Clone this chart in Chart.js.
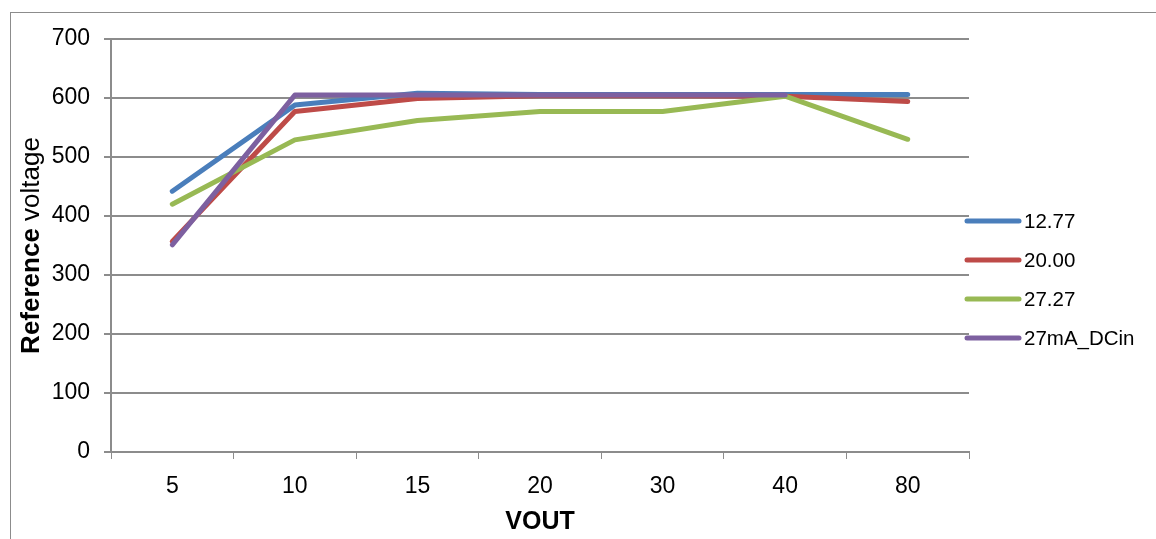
<!DOCTYPE html>
<html>
<head>
<meta charset="utf-8">
<script src="https://cdn.jsdelivr.net/npm/chart.js@4"></script>
<style>
  html, body { margin: 0; padding: 0; background: #fff; }
  #wrap { position: relative; width: 1156px; height: 539px; overflow: hidden; }
  #frame { position: absolute; left: 10px; top: 12px; width: 1200px; height: 600px; border: 1px solid #8c8c8c; }
  canvas { position: absolute; left: 0; top: 0; }
</style>
</head>
<body>
<div id="wrap">
  <div id="frame"></div>
  <canvas id="chart" width="1156" height="539"></canvas>
</div>
<script>
// categories (VOUT)
const vout = ['5', '10', '15', '20', '30', '40', '80'];

// series values
const s1277 = [442, 588, 608, 606, 606, 606, 606];
const s2000 = [357, 577, 599, 604, 604, 603, 594];
const s2727 = [420, 529, 562, 577, 577, 603, 530];
const s27mA = [351, 605, 605, 605, 605, 605, null];

const seriesNames = ['12.77', '20.00', '27.27', '27mA_DCin'];
const seriesColors = ['#4a7ebb', '#be4b48', '#98b954', '#7d60a0'];

const yTicks = [0, 100, 200, 300, 400, 500, 600, 700];

const font = '"Liberation Sans", Arial, sans-serif';

// legend and y title drawn by hand (mixed bold / normal title)
const extras = {
  id: 'extras',
  afterDraw: function(chart) {
    const ctx = chart.ctx;
    ctx.save();
    // legend
    chart.data.datasets.forEach(function(ds, i) {
      const y = 221 + i * 39;
      ctx.strokeStyle = ds.borderColor;
      ctx.lineWidth = 5;
      ctx.lineCap = 'round';
      ctx.beginPath();
      ctx.moveTo(967, y);
      ctx.lineTo(1019, y);
      ctx.stroke();
      ctx.fillStyle = '#000';
      ctx.font = '20.5px ' + font;
      ctx.textAlign = 'left';
      ctx.textBaseline = 'middle';
      ctx.fillText(ds.label, 1024, y + 1);
    });
    // y axis title
    const area = chart.chartArea;
    const cy = (area.top + area.bottom) / 2;
    ctx.translate(32, cy);
    ctx.rotate(-Math.PI / 2);
    const boldFont = 'bold 26px ' + font;
    const normFont = '26px ' + font;
    ctx.font = boldFont;
    const w1 = ctx.measureText('Reference ').width;
    ctx.font = normFont;
    const w2 = ctx.measureText('voltage').width;
    let x = -(w1 + w2) / 2;
    ctx.textAlign = 'left';
    ctx.textBaseline = 'middle';
    ctx.fillStyle = '#000';
    ctx.font = boldFont;
    ctx.fillText('Reference ', x, 0);
    ctx.font = normFont;
    ctx.fillText('voltage', x + w1, 0);
    ctx.restore();
  }
};

const datasets = [s1277, s2000, s2727, s27mA].map(function(values, i) {
  return {
    label: seriesNames[i],
    data: values,
    borderColor: seriesColors[i],
    backgroundColor: seriesColors[i],
    borderWidth: 5,
    borderCapStyle: 'round',
    borderJoinStyle: 'round',
    pointRadius: 0,
    tension: 0,
    fill: false,
    order: 4 - i
  };
});

new Chart(document.getElementById('chart'), {
  type: 'line',
  data: { labels: vout, datasets: datasets },
  options: {
    responsive: false,
    animation: false,
    layout: { padding: { left: 0, top: 39, right: 187, bottom: 0 } },
    plugins: {
      legend: { display: false },
      tooltip: { enabled: false }
    },
    scales: {
      x: {
        offset: true,
        grid: {
          offset: true,
          drawOnChartArea: false,
          drawTicks: true,
          tickLength: 7,
          color: '#8c8c8c',
          lineWidth: 1
        },
        border: { color: '#8c8c8c', width: 2 },
        ticks: { color: '#000', font: { family: font, size: 23 }, padding: 14, maxRotation: 0 },
        title: {
          display: true,
          text: 'VOUT',
          color: '#000',
          font: { family: font, size: 25, weight: 'bold' },
          padding: { top: 0, bottom: 2 }
        },
        afterFit: function(scale) { scale.height = 87; }
      },
      y: {
        min: 0,
        max: 700,
        afterBuildTicks: function(scale) {
          scale.ticks = yTicks.map(function(v) { return { value: v }; });
        },
        grid: {
          color: '#8c8c8c',
          lineWidth: 2,
          tickLength: 7
        },
        border: { color: '#8c8c8c', width: 2 },
        ticks: { color: '#000', font: { family: font, size: 23 }, padding: 14 },
        afterFit: function(scale) { scale.width = 111; }
      }
    }
  },
  plugins: [extras]
});
</script>
</body>
</html>
